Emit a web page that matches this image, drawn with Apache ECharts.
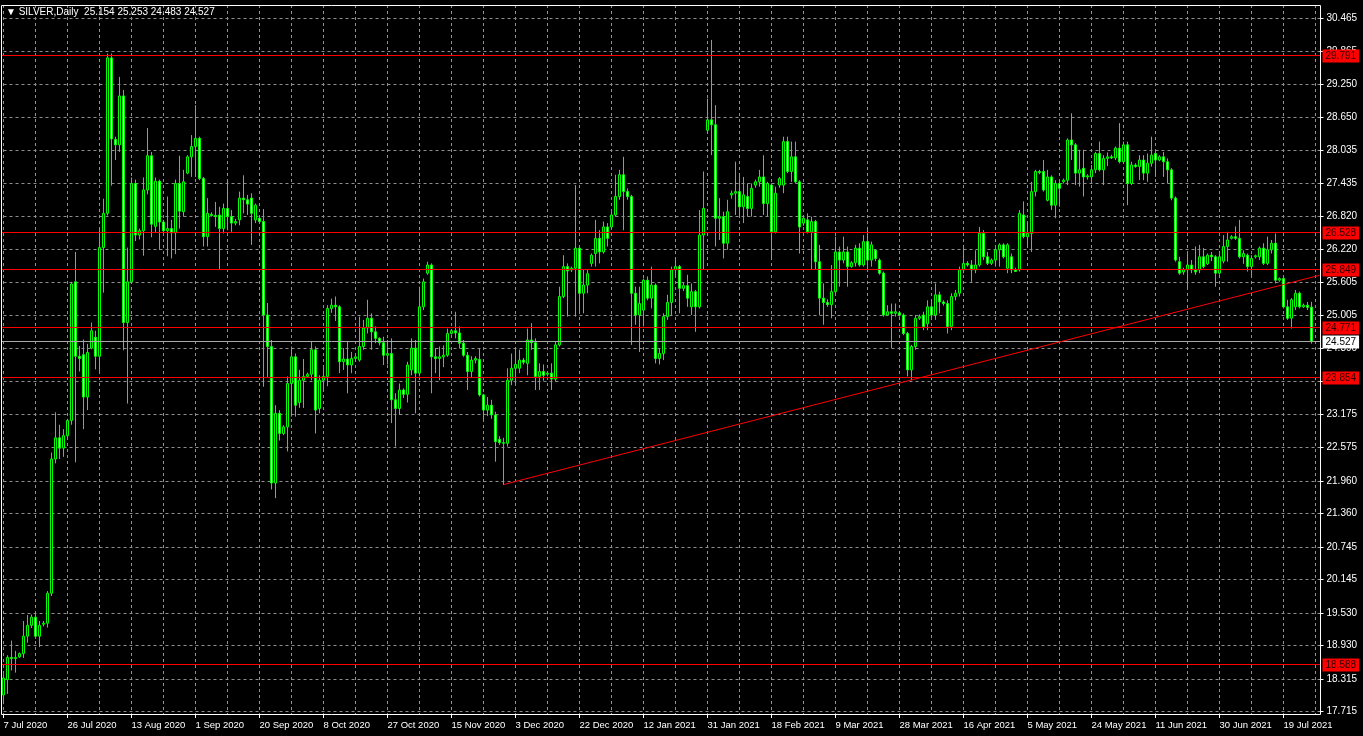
<!DOCTYPE html>
<html>
<head>
<meta charset="utf-8">
<script src="https://cdn.jsdelivr.net/npm/echarts@6/dist/echarts.min.js"></script>
<style>
html,body{margin:0;padding:0;background:#000;}
#c{width:1363px;height:736px;}
</style>
</head>
<body>
<div id="c"></div>
<script>
// ---- daily candles [open, high, low, close], one array per month ----
const jul2020 = [
[18.02,18.40,17.85,18.33],[18.30,18.75,18.04,18.71],[18.71,19.02,18.47,18.69],[18.69,18.83,18.43,18.71],
[18.72,18.80,18.70,18.78],[18.78,19.38,18.70,19.10],[19.10,19.49,18.98,19.30],[19.30,19.50,19.25,19.45],
[19.45,19.52,19.05,19.10],[19.10,19.38,18.90,19.30],[19.32,19.38,19.28,19.34],[19.34,19.93,19.26,19.89],
[19.89,22.48,19.84,22.36],[22.36,23.22,22.28,22.75],[22.75,22.99,22.36,22.56],[22.56,22.91,22.40,22.79],
[22.79,23.10,22.75,23.07],[23.07,25.62,22.99,25.58],[25.62,26.17,22.30,24.25],[24.25,24.44,23.97,24.21],
[24.28,24.56,22.91,23.50],[23.50,24.48,23.26,24.32]
];
const aug2020 = [
[24.40,24.87,24.38,24.72],[24.60,24.72,24.01,24.25],[24.25,26.60,23.97,26.25],[26.25,27.15,25.42,26.88],
[26.88,29.82,26.84,29.74],[29.74,29.82,27.39,28.25],[28.24,28.29,27.86,28.14],[28.14,29.39,28.01,29.04],
[29.04,29.15,24.36,24.87],[24.87,26.25,23.38,25.62],[25.62,27.54,25.58,27.43],[27.43,27.50,26.37,26.48],
[26.48,26.60,26.40,26.56],[26.56,27.54,26.10,27.31],[27.31,28.45,27.23,27.94],[27.94,28.01,26.44,26.68],
[26.64,27.54,26.52,27.47],[27.47,27.50,26.21,26.72],[26.72,26.76,26.52,26.56],[26.56,27.19,26.09,26.60],
[26.60,26.76,26.05,26.52],[26.52,27.50,26.13,27.43],[27.43,27.94,26.60,26.92],[26.91,27.68,26.82,27.46],
[27.62,27.95,27.60,27.92],[27.92,28.32,27.55,28.11]
];
const sep2020 = [
[28.11,28.87,27.55,28.26],[28.26,28.29,27.49,27.52],[27.52,27.55,26.27,26.45],[26.45,27.16,26.27,26.88],
[26.86,26.90,26.82,26.84],[26.84,27.09,26.63,26.82],[26.85,27.00,25.84,26.60],[26.60,27.06,26.51,26.97],
[26.97,27.49,26.57,26.82],[26.82,26.94,26.54,26.70],[26.70,26.78,26.66,26.73],[26.76,27.28,26.66,27.16],
[27.16,27.58,26.88,27.13],[27.13,27.22,26.85,27.05],[27.16,27.25,26.30,26.88],[26.76,27.06,26.70,27.03],
[26.79,26.82,26.70,26.73],[26.73,26.96,23.69,25.01],[25.01,25.23,23.87,24.43],[24.43,24.55,21.80,21.92],
[21.92,23.35,21.64,23.20],[23.20,23.26,22.70,22.83],[22.83,22.98,22.80,22.95],[22.95,23.88,22.50,23.75],
[23.75,24.43,23.14,24.24],[24.24,24.30,23.14,23.35]
];
const oct2020 = [
[23.40,24.00,23.30,23.81],[23.81,24.20,23.30,23.88],[23.88,23.95,23.85,23.92],[23.92,24.52,23.81,24.37],
[24.37,24.43,22.83,23.26],[23.29,23.90,23.20,23.81],[23.81,24.05,23.60,23.88],[23.88,25.19,23.70,25.13],
[25.13,25.31,25.05,25.19],[25.19,25.35,24.90,25.16],[25.16,25.19,23.94,24.15],[24.15,24.40,24.00,24.20],
[24.20,24.52,23.57,24.09],[24.09,24.33,23.94,24.21],[24.21,24.26,24.15,24.24],[24.18,24.98,24.15,24.43],
[24.43,24.92,24.37,24.77],[24.77,25.29,24.67,24.95],[24.95,25.04,24.37,24.70],[24.70,24.80,24.49,24.58],
[24.58,24.60,24.45,24.50],[24.50,24.61,24.09,24.27],[24.27,24.55,24.10,24.30],[24.30,24.58,23.02,23.45],
[23.45,23.57,22.59,23.29],[23.29,23.75,23.17,23.63]
];
const nov2020 = [
[23.63,23.66,23.48,23.55],[23.55,24.15,23.40,24.09],[24.00,24.58,23.90,24.40],[24.40,24.55,23.20,23.94],
[23.94,25.53,23.88,25.16],[25.16,25.68,25.10,25.62],[25.78,25.99,25.75,25.93],[25.93,25.96,23.57,24.24],
[24.24,24.40,23.94,24.21],[24.21,24.43,23.81,24.24],[24.24,24.45,24.05,24.27],[24.27,24.76,24.24,24.67],
[24.67,24.75,24.65,24.72],[24.72,25.07,24.58,24.68],[24.68,24.80,24.40,24.49],[24.49,24.55,24.24,24.27],
[24.27,24.33,23.63,23.97],[23.97,24.25,23.85,24.18],[24.18,24.25,24.12,24.21],[24.19,24.40,23.51,23.54],
[23.54,23.56,23.08,23.26],[23.26,23.50,23.15,23.35],[23.35,23.45,23.10,23.17],[23.17,23.23,22.31,22.68],
[22.72,22.78,22.62,22.66],[22.66,22.75,21.88,22.65]
];
const dec2020 = [
[22.65,24.03,22.59,23.81],[23.81,24.30,23.72,24.03],[24.03,24.40,23.75,24.10],[24.03,24.37,23.94,24.18],
[24.18,24.22,24.10,24.14],[24.12,24.76,23.90,24.55],[24.55,24.86,24.37,24.50],[24.50,24.58,23.63,23.88],
[23.88,24.12,23.63,23.97],[23.97,24.10,23.80,23.90],[23.92,23.96,23.88,23.94],[23.94,24.12,23.63,23.83],
[23.83,24.52,23.78,24.46],[24.46,25.53,24.43,25.35],[25.35,26.11,25.32,25.90],[25.90,25.96,24.98,25.82],
[25.84,25.90,25.80,25.87],[25.87,27.40,24.98,26.24],[26.24,26.26,25.04,25.41],[25.41,25.84,25.04,25.56],
[25.56,25.84,25.41,25.77],[25.96,26.14,25.90,26.11],[26.14,26.76,25.90,26.42],[26.42,26.57,25.96,26.17],
[26.17,26.73,26.14,26.63],[26.63,26.70,26.27,26.42]
];
const jan2021 = [
[26.63,26.91,26.60,26.85],[26.85,27.59,26.82,27.19],[27.19,27.68,27.13,27.59],[27.59,27.92,26.57,27.28],
[27.28,27.34,27.13,27.19],[27.19,27.22,24.46,25.41],[25.41,25.53,24.83,25.01],[25.01,25.53,24.33,25.22],
[25.10,25.68,24.80,25.65],[25.65,25.72,25.28,25.32],[25.32,25.90,25.13,25.56],[25.56,25.59,24.12,24.21],
[24.21,24.40,24.10,24.30],[24.30,25.04,24.18,24.98],[24.98,25.38,24.92,25.24],[25.24,25.90,25.01,25.84],
[25.84,26.05,25.72,25.90],[25.90,25.93,25.04,25.50],[25.50,25.60,25.45,25.55],[25.55,25.75,25.16,25.32],
[25.16,25.59,25.01,25.44],[25.44,25.47,24.70,25.16],[25.16,26.94,25.13,26.48],[26.48,27.65,25.84,26.97],
[28.41,28.99,28.35,28.60]
];
const feb2021 = [
[28.60,30.07,27.95,28.51],[28.51,28.87,26.27,26.79],[26.79,27.16,26.39,26.82],[26.82,26.91,26.05,26.33],
[26.33,27.13,26.21,26.91],[27.22,27.30,27.15,27.25],[27.25,27.83,26.85,27.28],[27.28,27.59,26.85,27.00],
[27.00,27.55,26.70,27.22],[27.19,27.43,26.82,26.97],[26.97,27.43,26.82,27.34],[27.40,27.50,27.35,27.46],
[27.46,27.68,27.37,27.55],[27.55,27.95,26.85,27.06],[27.06,27.46,26.82,27.43],[27.40,27.43,26.02,26.54],
[26.54,27.37,26.51,27.25],[27.40,27.55,27.35,27.52],[27.40,28.29,27.25,28.20],[28.20,28.29,27.62,27.65],
[27.65,28.20,27.46,27.92],[27.92,28.20,27.43,27.46],[27.46,27.49,26.14,26.63],[26.70,26.82,26.65,26.79]
];
const mar2021 = [
[26.76,26.88,26.51,26.54],[26.54,26.82,25.84,26.73],[26.73,26.76,25.84,25.99],[25.99,26.30,25.01,25.32],
[25.32,25.59,24.83,25.24],[25.24,25.30,25.16,25.20],[25.20,25.93,24.95,25.44],[25.44,26.45,25.41,26.17],
[26.17,26.27,25.53,26.02],[26.02,26.45,25.96,26.17],[26.17,26.27,25.53,25.90],[25.90,26.00,25.88,25.97],
[25.97,26.30,25.90,26.24],[26.24,26.33,25.90,25.93],[25.93,26.48,25.90,26.36],[26.36,26.63,25.84,26.02],
[26.02,26.36,25.90,26.30],[26.20,26.22,26.00,26.05],[26.02,26.05,25.75,25.78],[25.78,25.81,24.98,25.01],
[25.01,25.19,25.01,25.07],[25.07,25.22,24.40,25.04],[25.04,25.22,24.98,25.07],[25.05,25.08,24.98,25.01],
[25.01,25.04,24.64,24.67],[24.67,24.70,23.88,24.00],[24.00,24.46,23.81,24.43]
];
const apr2021 = [
[24.43,25.01,24.37,24.95],[24.95,25.02,24.92,24.98],[25.01,25.07,24.73,24.80],[24.85,25.28,24.73,25.16],
[25.16,25.28,24.95,25.01],[25.01,25.59,24.92,25.38],[25.38,25.44,25.04,25.25],[25.25,25.28,25.18,25.22],
[25.22,25.28,24.67,24.80],[24.80,25.41,24.73,25.35],[25.35,25.47,25.28,25.41],[25.41,25.90,25.35,25.84],
[25.84,26.30,25.78,25.96],[25.96,26.00,25.90,25.93],[25.93,26.02,25.62,25.84],[25.84,26.20,25.78,25.93],
[25.93,26.63,25.90,26.51],[26.51,26.57,26.02,26.08],[26.08,26.17,25.93,25.96],[25.96,26.05,25.93,26.02],
[26.02,26.24,25.90,26.21],[26.21,26.33,25.90,26.30],[26.30,26.33,26.05,26.08],[25.87,26.33,25.78,26.30],
[26.08,26.14,25.78,25.84]
];
const may2021 = [
[25.84,25.88,25.80,25.81],[25.84,26.94,25.81,26.88],[26.85,27.10,26.42,26.45],[26.45,26.70,26.30,26.51],
[26.51,27.46,26.17,27.28],[27.28,27.68,27.19,27.65],[27.65,27.68,27.60,27.63],[27.65,27.86,27.28,27.31],
[27.12,27.68,27.10,27.55],[27.55,27.58,26.94,27.03],[27.03,27.49,26.79,27.43],[27.43,27.49,27.00,27.34],
[27.46,27.52,27.43,27.49],[27.49,28.26,27.40,28.23],[28.23,28.72,27.86,28.14],[28.14,28.17,27.40,27.62],
[27.62,28.05,27.37,27.68],[27.71,28.05,27.19,27.55],[27.55,27.60,27.50,27.57],[27.55,27.77,27.43,27.68],
[27.68,28.01,27.62,27.98],[27.98,28.20,27.65,27.68],[27.68,27.95,27.40,27.89],[27.89,28.00,27.75,27.92],
[27.92,27.96,27.88,27.90],[27.90,28.11,27.86,28.08]
];
const jun2021 = [
[28.08,28.54,27.80,27.83],[27.83,28.20,27.80,28.14],[28.14,28.20,27.03,27.43],[27.43,27.83,27.40,27.77],
[27.77,27.80,27.72,27.74],[27.74,27.95,27.49,27.86],[27.86,27.95,27.49,27.62],[27.62,27.98,27.46,27.80],
[27.80,28.29,27.74,27.95],[27.98,28.05,27.55,27.86],[27.86,27.95,27.84,27.92],[27.92,28.01,27.55,27.83],
[27.83,27.89,27.43,27.68],[27.68,27.71,27.12,27.16],[27.16,27.19,25.99,26.02],[25.99,26.08,25.75,25.78],
[25.80,25.88,25.75,25.84],[25.84,26.14,25.50,25.93],[25.93,26.02,25.78,25.84],[25.84,26.27,25.75,25.80],
[25.84,26.30,25.78,26.08],[26.08,26.24,25.87,25.90],[25.95,26.14,25.93,26.11],[26.11,26.17,26.00,26.08],
[26.08,26.11,25.53,25.78],[25.78,26.14,25.75,26.08]
];
const jul2021 = [
[26.00,26.48,25.96,26.27],[26.27,26.54,25.99,26.39],[26.42,26.48,26.40,26.45],[26.45,26.64,26.39,26.42],
[26.42,26.76,26.05,26.08],[26.08,26.20,25.95,26.14],[26.11,26.14,25.81,25.90],[25.90,26.11,25.72,26.05],
[26.08,26.12,26.05,26.10],[26.08,26.27,26.02,26.24],[26.24,26.33,25.93,25.96],[25.96,26.45,25.93,26.21],
[26.21,26.39,26.14,26.33],[26.33,26.51,25.59,25.65],[25.65,25.70,25.62,25.68],[25.68,25.72,25.13,25.16],
[25.16,25.29,24.92,24.95],[24.95,25.32,24.76,25.29],[25.16,25.47,25.10,25.41],[25.41,25.44,25.13,25.16],
[25.16,25.22,25.14,25.19],[25.19,25.25,25.10,25.15],[25.154,25.253,24.483,24.527]
];

// trading calendar: Sunday–Friday bars, market holidays removed
const firstDay = '2020-07-07';
const holidays = ['2020-12-25','2021-01-01','2021-04-02'];
const emptySlotsRight = 2;

// price axis tick labels and chart annotations
const yTickLabels = ['17.715','18.315','18.930','19.530','20.145','20.745','21.360','21.960','22.575','23.175',
  '23.790','24.390','25.005','25.605','26.220','26.820','27.435','28.035','28.650','29.250','29.865','30.465'];
const levelLines = [29.791, 26.528, 25.849, 24.771, 23.854, 18.588];
const bidPrice = 24.527;
const trendStart = {index: 125, price: 21.89};
const trendEnd = {index: 329, price: 25.74};
const headerText = '\u25BC SILVER,Daily  25.154 25.253 24.483 24.527';
const monthNames = ['Jan','Feb','Mar','Apr','May','Jun','Jul','Aug','Sep','Oct','Nov','Dec'];

const ohlc = [].concat(jul2020, aug2020, sep2020, oct2020, nov2020, dec2020,
  jan2021, feb2021, mar2021, apr2021, may2021, jun2021, jul2021);

const dates = [];
{
  const p = firstDay.split('-').map(Number);
  const d = new Date(Date.UTC(p[0], p[1]-1, p[2]));
  while (dates.length < ohlc.length) {
    const iso = d.toISOString().slice(0,10);
    if (d.getUTCDay() !== 6 && holidays.indexOf(iso) < 0) dates.push(iso);
    d.setUTCDate(d.getUTCDate()+1);
  }
}
const categories = dates.slice();
for (let k = 0; k < emptySlotsRight; k++) categories.push('slot' + k);

function fmtDate(v) {
  if (!/^\d{4}-/.test(v)) return '';
  const p = v.split('-');
  return (+p[2]) + ' ' + monthNames[+p[1]-1] + ' ' + p[0];
}

const FONT = 'Liberation Sans';
const GRID_COLOR = '#8f8f8f';
const yTicks = yTickLabels.map(Number);

// horizontal levels (red) + bid line (grey), drawn pixel-crisp through the axis scale
const hLines = levelLines.map(v => ({value: [0, v], bid: false}))
  .concat([{value: [0, bidPrice], bid: true}]);

function renderLevel(params, api) {
  const cs = params.coordSys;
  const v = api.value(1);
  const y = Math.floor(api.coord([0, v])[1]) + 0.5;
  const isBid = hLines[params.dataIndex].bid;
  const color = isBid ? '#a8a8a8' : '#ff0000';
  return {
    type: 'group',
    children: [
      {type: 'line', silent: true,
        shape: {x1: cs.x - 2, y1: y, x2: cs.x + cs.width + 1, y2: y},
        style: {stroke: color, lineWidth: 1}},
      {type: 'text', silent: true, x: cs.x + cs.width + 3, y: Math.round(y),
        style: {text: v.toFixed(3), align: 'left', verticalAlign: 'middle',
          fill: isBid ? '#000000' : '#2a0000',
          backgroundColor: isBid ? '#ffffff' : '#ff0000',
          padding: [2, 3, 1, 3], font: '10px "' + FONT + '"'}}
    ]
  };
}

const chart = echarts.init(document.getElementById('c'), null, {renderer: 'canvas'});
chart.setOption({
  animation: false,
  backgroundColor: '#000000',
  grid: {left: 3.5, top: 5, width: 1316, height: 709, containLabel: false},
  graphic: [
    {type: 'rect', silent: true, z: 100,
      shape: {x: 1.5, y: 5.5, width: 1319, height: 709},
      style: {fill: 'none', stroke: '#ffffff', lineWidth: 1}},
    {type: 'text', silent: true, z: 100, left: 6, top: 7,
      style: {text: headerText, fill: '#ffffff', font: '10px "' + FONT + '"'}}
  ],
  xAxis: {
    type: 'category',
    data: categories,
    boundaryGap: false,
    axisLine: {show: false},
    axisTick: {show: true, interval: (i) => i % 16 === 0, length: 4, lineStyle: {color: '#ffffff'}},
    axisLabel: {interval: (i) => i % 16 === 0, formatter: fmtDate, align: 'left',
      color: '#ffffff', fontSize: 9.5, fontFamily: FONT, margin: 6},
    splitLine: {show: true, interval: (i) => i % 8 === 0,
      lineStyle: {color: GRID_COLOR, width: 1, type: [3, 3]}}
  },
  yAxis: {
    type: 'value',
    position: 'right',
    min: 17.669,
    max: 30.713,
    scale: true,
    axisLine: {show: false},
    axisTick: {show: true, customValues: yTicks, length: 4, lineStyle: {color: '#ffffff'}},
    axisLabel: {customValues: yTicks, formatter: (v) => Number(v).toFixed(3),
      color: '#ffffff', fontSize: 10, fontFamily: FONT, margin: 7},
    splitLine: {show: true, lineStyle: {color: GRID_COLOR, width: 1, type: [3, 3]}}
  },
  series: [{
    type: 'candlestick',
    data: ohlc.map(r => [r[0], r[3], r[2], r[1]]),
    barWidth: 2,
    clip: false,
    z: 2,
    itemStyle: {color: '#000000', color0: '#ffffff', borderColor: '#00ff00', borderColor0: '#00ff00', borderWidth: 1},
    markLine: {
      silent: true, symbol: ['none', 'none'], animation: false,
      data: [[
        {coord: [trendStart.index, trendStart.price]},
        {coord: [trendEnd.index, trendEnd.price]}
      ]],
      lineStyle: {color: '#ff0000', width: 1, type: 'solid'},
      label: {show: false}
    }
  }, {
    type: 'custom',
    renderItem: renderLevel,
    data: hLines.map(h => h.value),
    clip: false,
    silent: true,
    z: 3
  }]
});
</script>
</body>
</html>
